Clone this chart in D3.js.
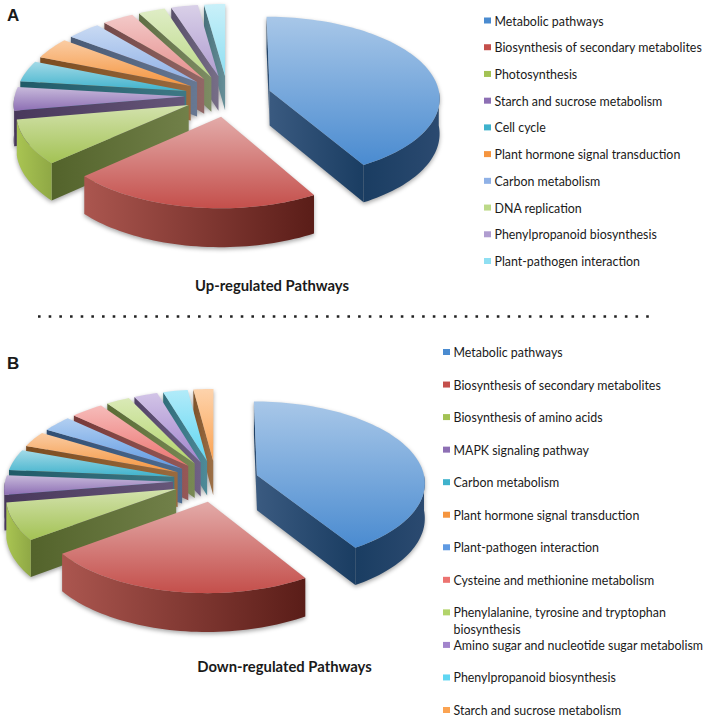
<!DOCTYPE html>
<html>
<head>
<meta charset="utf-8">
<script src="https://cdn.jsdelivr.net/npm/d3@7"></script>
<style>
body { margin: 0; background: #fff; }
text { font-family: Lato, sans-serif; fill: #1a1a1a; }
</style>
</head>
<body>
<svg id="main" width="708" height="718"></svg>
<script>
// null = slice with no entry in the printed legend
var upNames = ["Metabolic pathways", "Biosynthesis of secondary metabolites", "Photosynthesis",
    "Starch and sucrose metabolism", "Cell cycle", "Plant hormone signal transduction",
    "Carbon metabolism", null, "DNA replication", "Phenylpropanoid biosynthesis", "Plant-pathogen interaction"];
var upValues = [41.7, 21.7, 8.9, 4.7, 4.2, 4.2, 3.6, 3.3, 2.8, 2.8, 2.2];
var upColors = ["#4a8bd0", "#c44f4b", "#a3c254", "#8d6fb4", "#3fb2cc", "#f5953f",
    "#8fb1e6", "#e58f8d", "#bcd988", "#b09dd0", "#8fdff2"];

var downNames = ["Metabolic pathways", "Biosynthesis of secondary metabolites", "Biosynthesis of amino acids",
    "MAPK signaling pathway", "Carbon metabolism", "Plant hormone signal transduction",
    "Plant-pathogen interaction", "Cysteine and methionine metabolism",
    "Phenylalanine, tyrosine and tryptophan|biosynthesis", "Amino sugar and nucleotide sugar metabolism",
    "Phenylpropanoid biosynthesis", "Starch and sucrose metabolism"];
var downValues = [41.1, 23.9, 7.5, 3.9, 4.2, 3.1, 3.2, 3.5, 2.5, 2.5, 2.6, 2.1];
var downColors = ["#4a8bd0", "#c44f4b", "#a3c254", "#8d6fb4", "#3fb2cc", "#f5953f",
    "#5f9ae2", "#ec7370", "#b2d46a", "#a284cc", "#5fd6f2", "#fba352"];

var rimLeft = ["#1a3d62", "#ab564f", "#a9c452"];
var rimRight = ["#2b4a70", "#5a1d18", "#8fa845"];

var svg = d3.select("#main");
var defs = svg.append("defs");
var gradCount = 0;

function gradient(x2, y2, from, to) {
    var id = "g" + (gradCount++);
    var g = defs.append("linearGradient").attr("id", id)
        .attr("x1", 0).attr("y1", 0).attr("x2", x2).attr("y2", y2);
    g.append("stop").attr("offset", "0%").attr("stop-color", from);
    g.append("stop").attr("offset", "100%").attr("stop-color", to);
    return "url(#" + id + ")";
}

function drawPie(cx, cy, rx, values, colors) {
    var explode = 0.255, tilt = 0.08, ry = 80.7, depth = 35;
    var pie = d3.pie().sort(null);
    var line = d3.line().x(function (d) { return d[0]; }).y(function (d) { return d[1]; });

    // unit disc to the screen, with a little perspective towards the viewer
    function project(x, y, z) {
        var s = 1 / (1 - tilt * y);
        return [cx + rx * x * s, cy + ry * y * s + z * depth * s];
    }

    var slices = pie(values).map(function (d, i) {
        d.index = i;
        d.mid = (d.startAngle + d.endAngle) / 2;
        return d;
    });
    slices.sort(function (a, b) { return -Math.cos(a.mid) - (-Math.cos(b.mid)); });

    var g = svg.append("g").style("filter", "drop-shadow(0px 2px 2px rgba(0,0,0,0.35))");

    slices.forEach(function (d) {
        var dx = explode * Math.sin(d.mid), dy = -explode * Math.cos(d.mid);
        var mid = d3.color(colors[d.index]);
        function pt(a, r, z) {
            return project(dx + r * Math.sin(a), dy - r * Math.cos(a), z);
        }
        function arcPts(a0, a1, z) {
            var n = Math.max(2, Math.ceil((a1 - a0) / 0.03));
            return d3.range(n + 1).map(function (k) { return pt(a0 + (a1 - a0) * k / n, 1, z); });
        }
        function side(a, apexCol, rimCol) {
            var pts = [pt(a, 0, 0), pt(a, 1, 0), pt(a, 1, 1), pt(a, 0, 1)];
            var toRight = pts[1][0] > pts[0][0];
            g.append("path").attr("d", line(pts) + "Z")
                .attr("fill", toRight ? gradient(1, 0, apexCol, rimCol) : gradient(1, 0, rimCol, apexCol));
        }

        // radial walls that face the viewer
        var wallRim = d.index == 0 ? rimLeft[0] : mid.darker(1.9).formatHex();
        var wallApex = d.index == 0 ? "#3a5a80" : d3.interpolateRgb(mid.darker(1.3), "#999")(0.2);
        if (Math.sin(d.startAngle) <= 0.001) side(d.startAngle, wallApex, wallRim);
        if (Math.sin(d.endAngle) > 0.001) side(d.endAngle, wallApex, wallRim);

        // outer rim, front half only
        var a0 = Math.max(d.startAngle, Math.PI / 2), a1 = Math.min(d.endAngle, 3 * Math.PI / 2);
        if (a1 > a0) {
            var top = arcPts(a0, a1, 0), bottom = arcPts(a0, a1, 1).reverse();
            var left = d.index < 3 ? rimLeft[d.index] : wallRim;
            var right = d.index < 3 ? rimRight[d.index] : wallRim;
            g.append("path").attr("d", line(top.concat(bottom)) + "Z")
                .attr("fill", gradient(1, 0, left, right));
        }

        // top face
        var face = [pt(d.startAngle, 0, 0)].concat(arcPts(d.startAngle, d.endAngle, 0));
        g.append("path").attr("d", line(face) + "Z")
            .attr("fill", gradient(0, 1, d3.interpolateRgb(mid, "#fff")(0.52), mid.formatHex()));
    });
}

function drawLegend(x, y0, y1, names, colors) {
    var shown = names.map(function (n, i) { return { name: n, color: colors[i] }; })
        .filter(function (d) { return d.name; });
    var y = d3.scalePoint().domain(shown.map(function (d) { return d.name; })).range([y0, y1]);
    var rows = svg.append("g").selectAll("g").data(shown).enter().append("g");
    rows.append("rect")
        .attr("x", x).attr("y", function (d) { return y(d.name) - 4; })
        .attr("width", 7).attr("height", 6)
        .attr("fill", function (d) { return d.color; });
    rows.each(function (d) {
        var row = d3.select(this);
        d.name.split("|").forEach(function (part, k) {
            row.append("text")
                .attr("x", x + 10.5).attr("y", y(d.name) + 4 + k * 16.5)
                .attr("font-size", 12.4)
                .text(part);
        });
    });
}

function heading(x, y, label, size, anchor) {
    svg.append("text").attr("x", x).attr("y", y)
        .attr("font-size", size).attr("font-weight", "bold").attr("text-anchor", anchor)
        .style("font-family", anchor == "start" ? "Liberation Sans" : "Lato")
        .text(label);
}

drawPie(228, 96, 170, upValues, upColors);
drawPie(216, 481, 168, downValues, downColors);

drawLegend(484, 21.5, 262, upNames, upColors);
drawLegend(443, 353, 711, downNames, downColors);

heading(7, 21, "A", 17, "start");
heading(7, 369, "B", 17, "start");
heading(272, 291, "Up-regulated Pathways", 14.8, "middle");
heading(284.5, 672, "Down-regulated Pathways", 14.8, "middle");

// dotted separator between the panels
svg.append("line").attr("x1", 38).attr("x2", 650).attr("y1", 316.5).attr("y2", 316.5)
    .attr("stroke", "#222").attr("stroke-width", 2.6).attr("stroke-dasharray", "2.6 8.07");
</script>
</body>
</html>
